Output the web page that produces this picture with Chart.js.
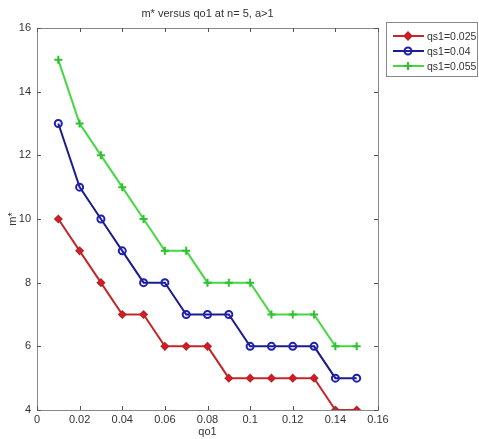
<!DOCTYPE html>
<html>
<head>
<meta charset="utf-8">
<script src="https://cdn.jsdelivr.net/npm/chart.js@4"></script>
<style>
  html, body { margin: 0; padding: 0; background: #fff; }
  #wrap { width: 479px; height: 439px; }
</style>
</head>
<body>
<div id="wrap"><canvas id="chart" width="479" height="439"></canvas></div>
<script>
// ---- data ----
const qo1 = [0.01, 0.02, 0.03, 0.04, 0.05, 0.06, 0.07, 0.08, 0.09, 0.10, 0.11, 0.12, 0.13, 0.14, 0.15];
const mQs025 = [10, 9, 8, 7, 7, 6, 6, 6, 5, 5, 5, 5, 5, 4, 4];
const mQs04 = [13, 11, 10, 9, 8, 8, 7, 7, 7, 6, 6, 6, 6, 5, 5];
const mQs055 = [15, 13, 12, 11, 10, 9, 9, 8, 8, 8, 7, 7, 7, 6, 6];
const seriesLabels = ['qs1=0.025', 'qs1=0.04', 'qs1=0.055'];
const xTicks = [0, 0.02, 0.04, 0.06, 0.08, 0.1, 0.12, 0.14, 0.16];
const yTicks = [4, 6, 8, 10, 12, 14, 16];

const FONT = '"Liberation Sans", Arial, sans-serif';
const TEXT = '#333';

function toPoints(ys) {
  return qo1.map((x, i) => ({ x: x, y: ys[i] }));
}

// frame, inward ticks, title and legend (matlab style)
const matlabFrame = {
  id: 'matlabFrame',
  afterDraw(chart) {
    const ctx = chart.ctx;
    const a = chart.chartArea;
    const sx = chart.scales.x, sy = chart.scales.y;
    ctx.save();
    ctx.strokeStyle = '#888';
    ctx.lineWidth = 1;
    ctx.strokeRect(Math.round(a.left) + 0.5, Math.round(a.top) + 0.5,
      Math.round(a.right - a.left), Math.round(a.bottom - a.top));
    ctx.strokeStyle = '#555';
    ctx.beginPath();
    xTicks.forEach(v => {
      const px = Math.round(sx.getPixelForValue(v)) + 0.5;
      ctx.moveTo(px, a.bottom); ctx.lineTo(px, a.bottom - 4);
      ctx.moveTo(px, a.top); ctx.lineTo(px, a.top + 4);
    });
    yTicks.forEach(v => {
      const py = Math.round(sy.getPixelForValue(v)) + 0.5;
      ctx.moveTo(a.left, py); ctx.lineTo(a.left + 4, py);
      ctx.moveTo(a.right, py); ctx.lineTo(a.right - 4, py);
    });
    ctx.stroke();

    // title
    ctx.fillStyle = TEXT;
    ctx.font = '11px ' + FONT;
    ctx.textAlign = 'center';
    ctx.textBaseline = 'middle';
    ctx.fillText('m* versus qo1 at n= 5, a>1', (a.left + a.right) / 2, 14);

    // legend
    const lx = 386, ly = 22, lw = 91, lh = 54;
    ctx.fillStyle = '#fff';
    ctx.fillRect(lx, ly, lw, lh);
    ctx.strokeStyle = '#888';
    ctx.lineWidth = 1;
    ctx.strokeRect(lx + 0.5, ly + 0.5, lw, lh);
    ctx.font = '10.5px ' + FONT;
    chart.data.datasets.forEach((ds, i) => {
      const y = 36 + i * 15;
      ctx.strokeStyle = ds.borderColor;
      ctx.lineWidth = 2;
      ctx.beginPath();
      ctx.moveTo(393, y); ctx.lineTo(424, y);
      ctx.stroke();
      ctx.fillStyle = ds.pointBackgroundColor;
      ctx.strokeStyle = ds.pointBorderColor;
      Chart.helpers.drawPoint(ctx, {
        pointStyle: ds.pointStyle,
        radius: ds.pointRadius,
        borderWidth: ds.pointBorderWidth
      }, 408, y);
      ctx.fillStyle = TEXT;
      ctx.textAlign = 'left';
      ctx.fillText(ds.label, 427, y + 1);
    });
    ctx.restore();
  }
};

new Chart(document.getElementById('chart'), {
  type: 'line',
  data: {
    datasets: [
      {
        label: seriesLabels[0],
        data: toPoints(mQs025),
        borderColor: '#c0282c',
        backgroundColor: '#d02020',
        pointBackgroundColor: '#d02020',
        pointBorderColor: '#c0202a',
        borderWidth: 2,
        pointStyle: 'rectRot',
        pointRadius: 3.5,
        pointBorderWidth: 1.5
      },
      {
        label: seriesLabels[1],
        data: toPoints(mQs04),
        borderColor: '#1c1c8c',
        backgroundColor: '#1c1c8c',
        pointBackgroundColor: 'rgba(255,255,255,0)',
        pointBorderColor: '#2020b0',
        borderWidth: 2,
        pointStyle: 'circle',
        pointRadius: 3.5,
        pointBorderWidth: 2
      },
      {
        label: seriesLabels[2],
        data: toPoints(mQs055),
        borderColor: '#44d844',
        backgroundColor: '#44d844',
        pointBackgroundColor: '#44d844',
        pointBorderColor: '#30c030',
        borderWidth: 2,
        pointStyle: 'cross',
        pointRadius: 4,
        pointBorderWidth: 2
      }
    ]
  },
  options: {
    responsive: false,
    animation: false,
    layout: { padding: { left: 0, right: 101, top: 28, bottom: 0 } },
    plugins: {
      legend: { display: false },
      title: { display: false },
      tooltip: { enabled: false }
    },
    scales: {
      x: {
        type: 'linear',
        min: 0,
        max: 0.16,
        afterBuildTicks: s => { s.ticks = xTicks.map(v => ({ value: v })); },
        afterFit: s => { s.height = 29; },
        grid: { display: false, drawTicks: false },
        border: { display: false },
        ticks: {
          color: TEXT,
          font: { family: FONT, size: 11 },
          padding: 3,
          maxRotation: 0,
          callback: v => String(parseFloat(v.toFixed(2)))
        },
        title: {
          display: true,
          text: 'qo1',
          color: TEXT,
          font: { family: FONT, size: 11 },
          padding: { top: 0, bottom: 0 }
        }
      },
      y: {
        min: 4,
        max: 16,
        afterBuildTicks: s => { s.ticks = yTicks.map(v => ({ value: v })); },
        afterFit: s => { s.width = 37; },
        grid: { display: false, drawTicks: false },
        border: { display: false },
        ticks: {
          color: TEXT,
          font: { family: FONT, size: 11 },
          padding: 6
        },
        title: {
          display: true,
          text: 'm*',
          color: TEXT,
          font: { family: FONT, size: 11 },
          padding: { top: 6, bottom: 0 }
        }
      }
    }
  },
  plugins: [matlabFrame]
});
</script>
</body>
</html>
